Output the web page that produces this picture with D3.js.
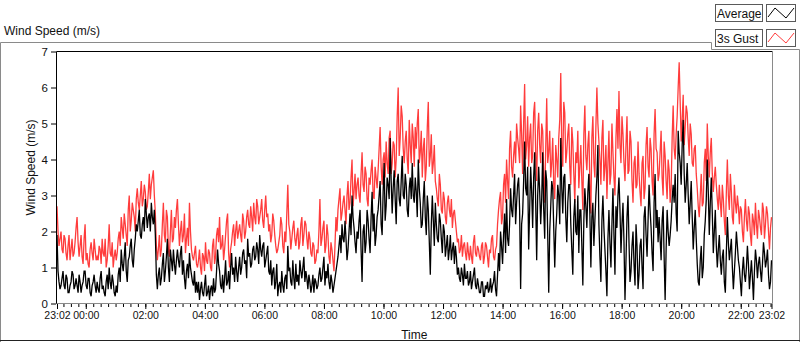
<!DOCTYPE html>
<html><head><meta charset="utf-8">
<script src="https://cdn.jsdelivr.net/npm/d3@7"></script>
<style>
html,body{margin:0;padding:0;background:#fff;}
svg{display:block;}
text{font-family:"Liberation Sans",Arial,sans-serif;}
</style></head>
<body>
<svg id="chart" width="800" height="342"></svg>
<script>
const startTime = new Date(2020, 0, 1, 23, 2);
const endTime = new Date(2020, 0, 2, 23, 2);
const seriesNames = ["Average", "3s Gust"];
const yTicks = [0, 1, 2, 3, 4, 5, 6, 7];
const xTickHours = ["00:00","02:00","04:00","06:00","08:00","10:00","12:00","14:00","16:00","18:00","20:00","22:00"];

const gustValues = [
2.7,2.0,1.6,1.8,2.0,1.5,1.4,1.9,1.8,1.4,1.2,1.6,1.9,1.2,1.5,1.8,1.3,1.4,1.7,2.1,
2.4,1.7,1.3,1.6,1.9,1.3,1.1,1.8,2.2,1.2,1.4,1.1,1.0,1.5,1.7,1.4,1.2,1.8,1.5,1.2,
1.3,1.2,1.6,1.5,1.1,1.8,1.4,1.3,1.8,1.0,1.2,1.6,2.2,1.4,1.3,1.7,1.0,1.3,1.5,1.2,
1.4,1.8,2.0,1.6,2.4,2.1,1.8,2.5,2.2,1.9,1.6,2.6,3.0,2.0,2.3,2.8,2.6,2.4,2.0,2.9,
3.2,2.8,2.6,3.0,3.4,2.7,2.9,3.3,3.1,2.6,2.7,3.1,3.6,2.9,3.3,3.5,3.7,3.0,2.5,1.6,
1.2,1.5,1.9,1.3,1.5,2.2,2.8,1.9,1.7,2.6,2.4,1.5,1.3,2.0,2.6,1.7,1.8,2.4,2.1,2.6,
2.9,2.2,1.6,2.0,2.3,1.7,1.9,2.5,1.4,1.8,2.1,1.6,2.8,2.0,1.5,1.3,1.2,1.4,1.6,1.1,
1.0,1.2,1.5,1.0,0.8,1.4,1.3,0.9,1.7,1.2,1.1,1.5,1.4,1.0,0.9,1.6,1.8,1.1,1.3,1.9,
2.1,1.7,2.4,1.5,1.6,1.9,1.2,1.5,1.9,2.3,2.5,1.4,1.0,1.5,1.7,2.0,2.2,1.6,2.0,2.3,
1.8,2.0,2.2,1.9,1.7,2.5,2.3,1.8,2.0,2.4,2.6,2.2,2.1,2.7,2.4,2.0,2.8,2.4,2.2,2.9,
2.7,2.2,2.4,2.6,2.9,2.3,2.1,2.6,3.0,2.4,2.5,2.0,2.2,1.7,1.9,2.5,2.3,1.9,1.6,1.4,
1.5,1.7,1.9,2.4,2.2,1.6,1.4,2.0,1.7,2.5,3.3,2.2,2.0,1.5,1.8,2.1,2.3,1.8,1.6,1.9,
2.1,1.5,1.7,2.2,2.4,1.6,1.9,2.3,2.2,1.8,1.5,2.0,1.8,1.4,1.3,1.7,1.6,1.1,1.2,1.5,
1.4,2.0,2.9,1.6,1.8,2.1,2.3,1.4,1.6,2.2,1.9,1.3,1.1,1.7,1.5,1.2,0.9,1.6,2.4,2.0,
2.6,2.9,3.2,2.3,2.5,2.8,3.0,2.6,2.2,3.0,3.4,2.6,2.8,3.5,4.0,2.7,3.1,3.6,2.9,3.3,
3.5,3.0,2.8,3.6,4.2,3.3,3.1,3.8,3.6,2.9,2.7,3.5,3.3,3.7,4.0,3.0,2.9,3.8,3.5,3.2,
3.7,4.3,4.9,3.8,3.3,4.0,4.2,3.5,4.5,3.9,3.6,4.6,4.8,3.6,3.9,4.5,4.4,3.5,4.0,5.2,
6.0,4.1,4.6,5.5,5.2,4.3,3.9,4.5,4.8,4.0,3.6,5.1,4.4,3.9,5.0,4.6,3.8,4.9,4.3,5.0,
5.4,3.9,4.2,4.8,3.5,4.3,4.6,3.4,3.8,4.9,5.6,3.8,4.1,4.7,3.6,3.9,4.4,3.4,3.2,2.9,
2.7,3.6,3.3,2.6,2.5,3.1,2.9,2.4,2.2,2.8,3.0,2.6,2.4,2.9,2.1,2.5,2.6,2.3,2.0,1.7,
1.8,1.4,1.5,1.9,1.3,1.6,1.7,1.4,1.2,1.7,1.4,1.2,1.6,1.3,1.1,1.7,1.9,1.4,1.3,1.6,
1.5,1.3,1.2,1.6,1.7,1.1,1.3,1.7,1.6,1.3,1.0,1.5,1.4,1.8,1.9,1.3,1.2,1.5,1.6,2.2,
2.6,2.9,3.1,2.2,2.4,3.3,3.6,2.8,4.0,3.4,2.9,4.3,4.8,3.8,3.5,4.1,4.5,3.9,5.0,4.6,
4.3,3.9,5.5,4.7,3.6,5.0,6.1,4.0,4.4,5.2,3.8,4.6,5.0,3.9,4.1,5.3,5.6,4.2,3.4,4.8,
5.3,4.4,3.9,5.0,4.8,3.6,2.8,4.3,5.7,3.9,4.2,4.8,3.5,3.9,4.6,3.3,2.9,4.4,4.0,3.5,
4.6,5.1,6.4,4.3,3.8,5.6,5.3,3.9,4.2,4.7,5.0,3.8,3.3,4.9,4.5,3.6,2.8,4.2,3.9,4.8,
3.2,3.8,4.4,3.4,2.6,4.7,5.5,4.1,3.7,4.4,4.8,3.3,2.5,4.6,5.2,3.9,3.5,4.9,6.0,5.0,
4.5,4.0,3.3,4.6,5.1,3.4,3.8,4.4,2.9,3.9,4.8,3.3,3.6,5.0,4.2,3.5,3.0,4.6,5.4,4.3,
5.9,4.4,3.9,5.2,4.7,3.9,3.4,4.4,5.2,3.6,3.7,4.8,4.5,3.4,2.8,3.9,4.1,3.2,3.3,4.5,
3.6,3.1,2.7,3.9,4.1,2.9,3.2,4.4,4.9,3.8,3.5,4.6,4.3,3.4,3.0,4.7,5.4,4.3,4.2,3.4,
3.6,4.2,4.8,3.5,3.0,4.5,4.1,3.4,2.9,4.0,3.7,2.8,3.2,4.6,5.5,4.3,4.0,4.7,5.2,6.0,
6.7,5.6,4.5,5.1,5.8,4.4,4.9,5.5,5.3,4.6,4.1,5.0,4.7,3.9,3.8,4.3,4.4,3.6,3.2,2.7,
2.4,3.0,3.6,2.7,2.8,3.9,4.3,3.4,5.0,4.1,3.5,4.2,4.6,3.6,3.1,3.5,3.8,3.3,2.9,2.6,
3.3,2.8,2.4,3.3,2.9,2.3,1.9,3.1,4.0,3.0,2.6,3.6,3.1,2.4,2.2,3.3,2.8,2.5,3.0,2.7,
2.2,2.7,2.6,2.0,1.7,2.4,2.9,2.3,2.0,2.7,2.5,1.9,1.6,2.5,2.3,1.9,2.8,2.2,1.8,2.6,
2.4,2.1,1.9,2.8,2.6,1.8,2.2,2.7,2.5,2.0,1.5,2.1,2.4
];

const averageValues = [
1.9,0.9,0.6,0.4,0.5,0.7,0.9,0.5,0.4,0.8,0.7,0.3,0.3,0.5,0.6,0.9,0.8,0.4,0.5,0.7,
0.5,0.3,0.8,0.6,0.3,0.5,0.6,0.9,0.9,0.5,0.4,0.7,0.7,0.3,0.2,0.5,0.6,0.8,0.5,0.3,
0.6,0.4,0.3,0.7,0.9,0.4,0.5,0.3,0.2,0.6,0.8,0.4,1.0,0.6,0.4,0.8,0.6,0.3,0.2,0.5,
0.3,0.8,1.0,0.6,1.5,1.1,0.9,1.3,1.7,0.9,0.6,1.2,1.3,1.6,1.8,1.2,1.0,1.5,1.8,2.2,
2.0,2.3,2.6,1.9,1.8,2.2,2.4,2.0,2.9,2.5,2.1,2.4,2.5,2.0,2.8,2.4,2.2,2.6,1.9,0.8,
0.4,0.8,1.0,0.5,0.7,1.1,1.4,0.6,0.9,1.3,1.8,1.0,0.6,1.5,1.2,0.9,1.5,1.1,0.8,1.2,
1.5,1.2,1.0,1.4,1.6,0.8,1.2,0.7,0.4,0.9,1.1,0.7,1.4,1.0,0.8,0.6,0.5,0.9,0.3,0.6,
0.3,0.6,0.1,0.4,0.6,0.3,0.2,0.5,0.8,0.2,0.3,0.5,0.1,0.4,0.5,0.2,0.7,0.3,0.4,0.9,
1.5,1.1,0.9,0.5,0.4,0.8,0.3,0.7,1.2,0.5,0.6,0.9,0.4,1.0,1.4,0.8,1.0,0.6,1.3,0.9,
0.6,1.0,1.3,0.8,1.0,1.4,1.5,1.1,1.2,0.7,1.8,1.3,1.4,1.0,1.1,1.5,1.6,1.2,1.3,1.7,
1.5,1.1,1.9,1.5,1.3,1.6,1.7,1.0,1.2,1.4,1.6,0.9,0.8,1.2,0.5,0.9,1.0,0.4,0.6,1.1,
0.2,0.5,0.6,0.3,0.9,0.5,0.3,0.7,0.8,0.4,1.6,0.9,1.0,0.6,0.5,1.2,0.7,0.4,1.1,0.6,
0.8,0.5,1.2,0.9,0.7,1.0,1.3,0.6,0.9,0.7,0.4,0.8,0.6,0.3,0.5,0.8,0.3,0.7,0.6,0.4,
0.5,0.8,1.0,0.6,0.7,1.0,1.3,0.5,0.9,0.7,1.1,0.6,0.4,0.8,0.6,0.3,0.5,0.7,0.9,1.1,
1.3,1.6,1.9,1.4,2.2,1.8,1.7,2.3,1.8,1.2,1.5,2.0,2.5,1.9,3.0,2.4,2.1,1.7,1.4,2.0,
1.8,2.3,2.6,1.5,0.6,2.0,2.2,1.4,1.7,2.6,2.3,1.8,1.4,2.4,3.1,2.0,2.5,1.6,1.9,2.4,
2.6,3.0,3.4,2.2,1.9,3.1,3.9,2.3,2.7,3.5,3.3,2.9,4.6,3.4,2.5,3.2,3.7,2.9,2.2,3.4,
3.6,2.9,2.7,3.4,4.1,3.0,2.9,3.6,3.3,2.6,2.4,3.2,3.5,2.9,3.9,3.0,2.8,3.5,3.1,2.4,
4.0,3.2,2.8,2.1,2.2,2.9,3.4,2.4,1.9,3.0,2.6,1.7,0.8,2.2,3.0,2.3,1.6,2.8,2.2,1.8,
1.7,2.5,2.3,1.8,1.4,2.2,2.0,1.3,1.6,1.9,1.2,1.5,1.9,1.2,1.5,1.7,1.1,1.6,1.3,0.8,
1.0,0.7,0.6,1.0,0.8,0.5,1.1,0.7,0.7,0.9,0.5,0.6,0.9,0.4,0.6,0.8,1.0,0.5,0.4,0.7,
0.5,0.3,0.3,0.6,0.6,0.2,0.2,0.5,0.4,0.6,0.3,0.4,0.7,0.3,0.5,0.6,0.9,0.4,0.2,0.8,
1.4,0.9,2.0,1.6,1.1,1.9,2.5,1.4,2.9,1.8,1.6,2.2,3.2,2.6,2.4,3.0,3.6,2.2,2.8,3.3,
3.5,2.6,0.4,2.2,2.5,3.4,4.5,3.2,3.0,3.8,1.5,2.6,3.8,3.1,2.1,3.5,4.2,2.8,1.2,3.0,
3.8,3.1,2.2,2.9,4.2,2.6,1.8,3.7,3.4,1.9,0.3,2.0,2.7,3.4,3.2,2.1,1.0,2.0,2.5,3.3,
3.0,2.2,4.6,3.2,2.5,3.5,3.6,2.4,1.7,2.8,3.3,3.3,2.2,1.5,0.8,2.4,2.9,2.0,1.9,3.0,
1.4,2.6,2.6,1.6,0.5,2.3,3.2,2.7,2.1,3.1,3.6,2.5,1.0,2.4,2.8,1.6,2.3,3.0,3.5,4.4,
2.2,1.3,0.6,2.3,3.0,2.1,1.5,0.9,0.2,1.8,2.6,1.7,1.0,2.2,3.2,1.9,0.8,2.7,2.1,3.0,
3.5,2.6,1.4,2.2,2.8,1.7,0.1,1.2,2.4,3.0,1.7,0.6,0.9,1.6,2.0,1.1,0.5,2.2,1.6,0.4,
0.8,1.6,1.8,1.0,0.4,2.4,2.7,1.9,1.3,2.3,3.3,2.6,2.1,1.4,0.9,2.8,3.6,2.1,2.6,1.7,
2.4,1.8,1.2,2.3,2.7,1.3,0.1,1.5,2.6,2.0,1.6,1.9,2.3,2.9,3.3,2.8,3.6,2.5,2.0,4.8,
4.2,3.9,3.3,4.4,5.1,3.6,2.8,3.3,3.9,3.0,2.2,2.8,3.4,2.4,1.5,2.1,2.6,1.8,1.1,0.6,
0.5,1.2,1.6,0.7,1.0,1.9,2.3,2.9,4.0,3.1,1.9,2.8,3.5,2.5,1.4,2.0,2.6,1.6,1.0,1.5,
1.9,1.2,0.8,1.3,1.5,0.6,0.3,1.4,2.4,1.7,1.2,1.5,1.8,1.0,0.4,0.9,1.4,2.0,1.6,1.2,
1.0,0.6,0.2,0.9,1.3,0.8,0.6,1.0,1.6,1.1,0.4,0.8,1.2,0.7,0.1,0.9,1.5,1.2,0.7,1.1,
1.3,0.9,0.6,1.1,1.7,1.4,1.0,1.2,1.5,0.8,0.4,0.6,1.2
];

const colors = {avg: "#000000", gust: "#ff3c3c"};

const svg = d3.select("#chart");
const X0 = 57, X1 = 771.5, Y0 = 303.5, Y1 = 51.5;

const n = averageValues.length;
const span = endTime - startTime;
const times = d3.range(n).map(i => new Date(+startTime + span * i / (n - 1)));

const x = d3.scaleTime().domain([startTime, endTime]).range([X0, X1]);
const y = d3.scaleLinear().domain([0, 7]).range([Y0, Y1]);

// outer panel frame
svg.append("path")
  .attr("d", "M0.5,342 V42.5 H711.5 V49.5 H799.5 V342")
  .attr("fill", "none").attr("stroke", "#8a8a8a").attr("stroke-width", 1);
svg.append("line").attr("x1", 0).attr("x2", 800).attr("y1", 340.5).attr("y2", 340.5)
  .attr("stroke", "#222").attr("stroke-width", 1);

// title
svg.append("text").attr("x", 4).attr("y", 35).attr("font-size", 12).attr("fill", "#111")
  .text("Wind Speed (m/s)");

// plot area background
svg.append("rect").attr("x", X0).attr("y", Y1).attr("width", 772 - X0).attr("height", Y0 - Y1)
  .attr("fill", "#fff");

// series
svg.append("clipPath").attr("id", "clp").append("rect")
  .attr("x", X0).attr("y", Y1).attr("width", 772 - X0).attr("height", Y0 - Y1 + 1);
const lineGen = vals => d3.line().x((d, i) => x(times[i])).y(d => y(d))(vals);
const g = svg.append("g").attr("clip-path", "url(#clp)");
g.append("path").attr("d", lineGen(gustValues)).attr("fill", "none")
  .attr("stroke", colors.gust).attr("stroke-width", 1.3);
g.append("path").attr("d", lineGen(averageValues)).attr("fill", "none")
  .attr("stroke", colors.avg).attr("stroke-width", 1.3);

// plot frame
svg.append("line").attr("x1", X0 - 0.5).attr("x2", 772.5).attr("y1", Y1).attr("y2", Y1).attr("stroke", "#000");
svg.append("line").attr("x1", X0 - 0.5).attr("x2", X0 - 0.5).attr("y1", Y1).attr("y2", Y0 + 0.5).attr("stroke", "#000");
svg.append("line").attr("x1", X0 - 0.5).attr("x2", 772.5).attr("y1", Y0).attr("y2", Y0).attr("stroke", "#8a8a8a");
svg.append("line").attr("x1", 772.5).attr("x2", 772.5).attr("y1", Y1).attr("y2", Y0).attr("stroke", "#8a8a8a");

// y axis
const yAxis = d3.axisLeft(y).tickValues(yTicks).tickSize(5).tickPadding(3).tickFormat(d3.format("d"));
const gy = svg.append("g").attr("transform", `translate(${X0 - 1},0)`).call(yAxis);
gy.select(".domain").remove();
gy.selectAll("text").attr("font-size", 11.5).attr("font-family", "Liberation Sans, Arial, sans-serif").attr("fill", "#111");
gy.selectAll("line").attr("stroke", "#000");

// x axis minor ticks
const minorAxis = d3.axisBottom(x).ticks(d3.timeMinute.every(15)).tickSize(3).tickFormat("");
const gxm = svg.append("g").attr("transform", `translate(0,${Y0 + 0.5})`).call(minorAxis);
gxm.select(".domain").remove();
gxm.selectAll("line").attr("stroke", "#000");

// x axis major ticks
const parseHM = d3.timeParse("%Y-%m-%d %H:%M");
const majorTimes = [startTime].concat(xTickHours.map(h => parseHM("2020-01-02 " + h)), [endTime]);
const xAxis = d3.axisBottom(x).tickValues(majorTimes).tickSize(5).tickPadding(3)
  .tickFormat(d3.timeFormat("%H:%M"));
const gx = svg.append("g").attr("transform", `translate(0,${Y0 + 0.5})`).call(xAxis);
gx.select(".domain").remove();
gx.selectAll("line").attr("stroke", "#000");
gx.selectAll("text").attr("font-size", 10.5).attr("font-family", "Liberation Sans, Arial, sans-serif").attr("fill", "#111");

// axis titles
svg.append("text").attr("x", (X0 + X1) / 2).attr("y", 338.5).attr("text-anchor", "middle")
  .attr("font-size", 12).attr("fill", "#111").text("Time");
svg.append("text").attr("transform", `translate(35,${(Y0 + Y1) / 2 - 10}) rotate(-90)`)
  .attr("text-anchor", "middle").attr("font-size", 12).attr("fill", "#111").text("Wind Speed (m/s)");

// legend
const legend = svg.append("g");
const legendItems = [
  {name: seriesNames[0], color: colors.avg, y: 4},
  {name: seriesNames[1], color: colors.gust, y: 29}
];
legendItems.forEach(it => {
  legend.append("rect").attr("x", 715.5).attr("y", it.y + 0.5).attr("width", 47).attr("height", 17)
    .attr("fill", "#fff").attr("stroke", "#5a5a5a");
  legend.append("text").attr("x", 717).attr("y", it.y + 14).attr("font-size", 12).attr("fill", "#111").text(it.name);
  legend.append("rect").attr("x", 766.5).attr("y", it.y + 0.5).attr("width", 29).attr("height", 17)
    .attr("fill", "#fff").attr("stroke", "#5a5a5a");
  legend.append("path")
    .attr("d", `M768,${it.y + 13} L775,${it.y + 4} L786,${it.y + 14} L794,${it.y + 4}`)
    .attr("fill", "none").attr("stroke", it.color).attr("stroke-width", 1);
});
</script>
</body></html>
